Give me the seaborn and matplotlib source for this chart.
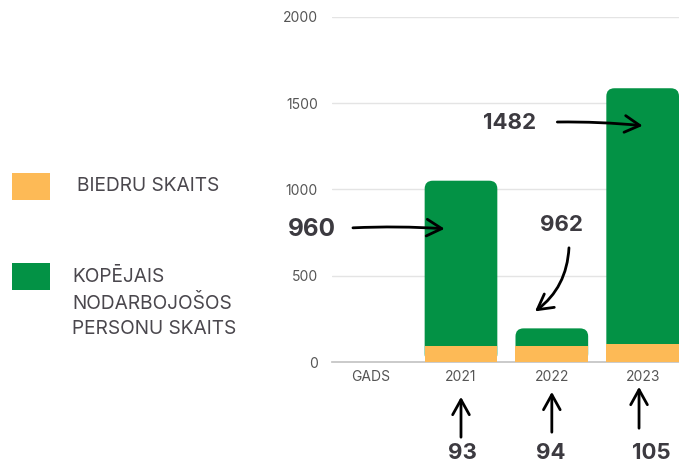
import numpy as np
import pandas as pd
import seaborn as sns
import matplotlib.pyplot as plt
from matplotlib.patches import FancyBboxPatch, Rectangle

# data
years = ["GADS", "2021", "2022", "2023"]
biedri = [0, 93, 94, 105]           # orange segment
kopejais = [0, 958, 101, 1482]      # green segment (as drawn)
yticks = [0, 500, 1000, 1500, 2000]

orange = "#FDBA56"
green = "#039245"
txt = "#4a474d"
dark = "#3c3a40"

df = pd.DataFrame({"gads": years, "biedri": biedri, "kopejais": kopejais})
df["total"] = df["biedri"] + df["kopejais"]

sns.set_theme(style="white")
plt.rcParams["font.family"] = ["Inter", "DejaVu Sans"]

fig = plt.figure(figsize=(6.79, 4.65), dpi=100)
ax = fig.add_axes([332 / 679, 1 - 362 / 465, 347 / 679, 345 / 465])

sns.barplot(data=df, x="gads", y="total", color=green, saturation=1, width=0.8, linewidth=0, ax=ax, zorder=2)
sns.barplot(data=df, x="gads", y="biedri", color=orange, saturation=1, width=0.8, linewidth=0, ax=ax, zorder=3)

ax.set_xlim(-0.42, 3.4)
ax.set_ylim(0, 2000)

# round the top corners of the green bars
n = len(years)
for p in list(ax.patches[:n]):
    h = p.get_height()
    if h > 0:
        x, w = p.get_x(), p.get_width()
        rb = FancyBboxPatch((x, 0), w, h, boxstyle="round,pad=0,rounding_size=0.09",
                            mutation_aspect=520, fc=green, ec="none", zorder=2)
        ax.add_patch(rb)
    p.remove()
for p in ax.patches:
    if isinstance(p, Rectangle) and p.get_height() <= 0:
        p.set_visible(False)

ax.set_yticks(yticks)
ax.yaxis.grid(True, color="#e4e4e4", lw=1)
ax.set_axisbelow(True)
for s in ["left", "right", "top"]:
    ax.spines[s].set_visible(False)
ax.spines["bottom"].set_color("#c4c4c4")
ax.tick_params(axis="both", length=0, labelsize=10, labelcolor="#555555")
ax.tick_params(axis="y", pad=10)
ax.tick_params(axis="x", pad=6)
ax.set_xlabel("")
ax.set_ylabel("")

# annotations
ak = dict(arrowstyle="->,head_length=0.9,head_width=0.5", color="black", lw=2)
ax.text(-0.64, 771, "960", fontsize=17.5, fontweight="bold", color=dark, ha="center", va="center")
ax.annotate("", xy=(0.85, 771), xytext=(-0.22, 777), arrowprops=dict(**ak, connectionstyle="arc3,rad=-0.03"),
            annotation_clip=False)
ax.text(1.54, 1386, "1482", fontsize=16, fontweight="bold", color=dark, ha="center", va="center")
ax.annotate("", xy=(3.03, 1368), xytext=(2.03, 1391), arrowprops=dict(**ak, connectionstyle="arc3,rad=-0.03"),
            annotation_clip=False)
ax.text(2.11, 794, "962", fontsize=16, fontweight="bold", color=dark, ha="center", va="center")
ax.annotate("", xy=(1.79, 284), xytext=(2.19, 678), arrowprops=dict(**ak, connectionstyle="arc3,rad=-0.25"),
            annotation_clip=False)

bx = [1.02, 1.99, 3.1]
ax_arrow = [1.0, 2.0, 2.96]
tails = [-452, -423, -400]
heads = [-186, -157, -128]
for i in range(3):
    ax.annotate("", xy=(ax_arrow[i], heads[i]), xytext=(ax_arrow[i], tails[i]),
                arrowprops=ak, annotation_clip=False)
    ax.text(bx[i], -528, str(biedri[i + 1]), fontsize=16, fontweight="bold", color=dark,
            ha="center", va="center", clip_on=False)

# legend
fig.patches.append(Rectangle((12 / 679, 1 - 200 / 465), 38 / 679, 27 / 465,
                             transform=fig.transFigure, fc=orange, ec="none"))
fig.patches.append(Rectangle((12 / 679, 1 - 290 / 465), 38 / 679, 27 / 465,
                             transform=fig.transFigure, fc=green, ec="none"))
fig.text(77 / 679, 1 - 186 / 465, "BIEDRU SKAITS", fontsize=13.8, color=txt, va="center")
fig.text(72 / 679, 1 - 303 / 465, "KOPĒJAIS\nNODARBOJOŠOS\nPERSONU SKAITS", fontsize=13.8, color=txt,
         va="center", linespacing=1.5)

fig.savefig("out.png", dpi=100)
